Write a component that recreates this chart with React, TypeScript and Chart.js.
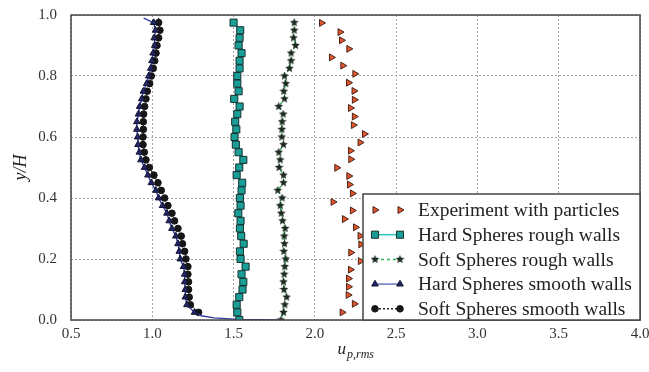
import React, { useEffect, useRef } from 'react';
import { Chart, registerables } from 'chart.js';

Chart.register(...registerables);

// ---------- data ----------
const roughY = [0.975, 0.95, 0.925, 0.9, 0.875, 0.85, 0.825, 0.8, 0.775, 0.75, 0.725, 0.7, 0.675, 0.65, 0.625, 0.6, 0.575, 0.55, 0.525, 0.5, 0.475, 0.45, 0.425, 0.4, 0.375, 0.35, 0.325, 0.3, 0.275, 0.25, 0.225, 0.2, 0.175, 0.15, 0.125, 0.1, 0.075, 0.05, 0.025, 0.0];
const hardRoughU = [1.5, 1.541, 1.537, 1.531, 1.549, 1.537, 1.537, 1.523, 1.523, 1.531, 1.504, 1.537, 1.523, 1.51, 1.517, 1.506, 1.514, 1.531, 1.56, 1.535, 1.519, 1.553, 1.549, 1.539, 1.543, 1.529, 1.543, 1.539, 1.547, 1.562, 1.539, 1.543, 1.574, 1.549, 1.56, 1.555, 1.535, 1.519, 1.523, 1.535];
const softRoughU = [1.873, 1.873, 1.869, 1.881, 1.854, 1.854, 1.844, 1.813, 1.821, 1.809, 1.813, 1.778, 1.805, 1.799, 1.797, 1.797, 1.807, 1.778, 1.787, 1.78, 1.807, 1.807, 1.772, 1.799, 1.787, 1.793, 1.801, 1.817, 1.811, 1.813, 1.809, 1.821, 1.815, 1.811, 1.807, 1.81, 1.826, 1.815, 1.807, 1.791];

const smoothY = [0.99, 0.975, 0.95, 0.925, 0.9, 0.875, 0.85, 0.825, 0.8, 0.775, 0.75, 0.725, 0.7, 0.675, 0.65, 0.625, 0.6, 0.575, 0.55, 0.525, 0.5, 0.475, 0.45, 0.425, 0.4, 0.375, 0.35, 0.325, 0.3, 0.275, 0.25, 0.225, 0.2, 0.175, 0.15, 0.125, 0.1, 0.075, 0.05, 0.025];
const hardSmoothU = [0.947, 1.008, 1.02, 1.012, 1.015, 1.005, 0.998, 0.99, 0.978, 0.965, 0.945, 0.935, 0.922, 0.915, 0.905, 0.905, 0.91, 0.912, 0.92, 0.93, 0.952, 0.973, 0.994, 1.022, 1.039, 1.063, 1.09, 1.104, 1.121, 1.145, 1.158, 1.166, 1.172, 1.192, 1.199, 1.199, 1.203, 1.203, 1.213, 1.26];
const hardSmoothWallY = [0.014, 0.007, 0.002, 0.0];
const hardSmoothWallU = [1.3, 1.38, 1.53, 1.79];
const softSmoothU = [1.039, 1.039, 1.047, 1.039, 1.029, 1.023, 1.015, 1.006, 0.994, 0.984, 0.969, 0.961, 0.953, 0.947, 0.945, 0.945, 0.943, 0.943, 0.951, 0.961, 0.982, 1.01, 1.035, 1.055, 1.076, 1.096, 1.121, 1.137, 1.158, 1.178, 1.186, 1.199, 1.207, 1.219, 1.219, 1.223, 1.223, 1.227, 1.234, 1.285];

const expY = [0.974, 0.944, 0.917, 0.889, 0.861, 0.834, 0.807, 0.778, 0.751, 0.722, 0.695, 0.667, 0.639, 0.61, 0.582, 0.555, 0.527, 0.499, 0.472, 0.444, 0.415, 0.387, 0.359, 0.331, 0.304, 0.276, 0.248, 0.221, 0.193, 0.165, 0.136, 0.109, 0.082, 0.053, 0.025];
const expU = [2.041, 2.155, 2.164, 2.209, 2.102, 2.172, 2.246, 2.207, 2.241, 2.243, 2.219, 2.243, 2.237, 2.305, 2.278, 2.219, 2.221, 2.135, 2.209, 2.213, 2.231, 2.112, 2.231, 2.182, 2.25, 2.278, 2.283, 2.221, 2.28, 2.219, 2.207, 2.207, 2.205, 2.243, 2.168];

const seriesLabels = [
  'Experiment with particles',
  'Hard Spheres rough walls',
  'Soft Spheres rough walls',
  'Hard Spheres smooth walls',
  'Soft Spheres smooth walls',
];
const xMin = 0.5, xMax = 4.0, xStep = 0.5;
const yMin = 0.0, yMax = 1.0, yStep = 0.2;
const xTitleMain = 'u';
const xTitleSub = 'p,rms';
const yTitle = 'y/H';

// ---------- helpers ----------
const FONT = "'Liberation Serif', serif";

function pts(xs: number[], ys: number[]) {
  return xs.map((x, i) => ({ x, y: ys[i] }));
}

function makeStar(size: number, fill: string) {
  const c = document.createElement('canvas');
  c.width = size; c.height = size;
  const g = c.getContext('2d')!;
  const cx = size / 2, cy = size / 2, R = size / 2, r = R * 0.45;
  g.beginPath();
  for (let i = 0; i < 10; i++) {
    const rad = i % 2 === 0 ? R : r;
    const a = -Math.PI / 2 + (i * Math.PI) / 5;
    const px = cx + rad * Math.cos(a), py = cy + rad * Math.sin(a);
    if (i === 0) g.moveTo(px, py); else g.lineTo(px, py);
  }
  g.closePath();
  g.fillStyle = fill;
  g.fill();
  return c;
}

function drawMarker(ctx: CanvasRenderingContext2D, ds: any, x: number, y: number) {
  const style = ds.pointStyle;
  if (style instanceof HTMLCanvasElement) {
    ctx.drawImage(style, x - style.width / 2, y - style.height / 2);
    return;
  }
  const r = ds.pointRadius instanceof Array ? ds.pointRadius[1] : ds.pointRadius;
  ctx.save();
  ctx.translate(x, y);
  ctx.rotate(((ds.pointRotation || 0) * Math.PI) / 180);
  ctx.beginPath();
  if (style === 'rect') {
    const s = r * Math.SQRT1_2;
    ctx.rect(-s, -s, 2 * s, 2 * s);
  } else if (style === 'triangle') {
    for (let i = 0; i < 3; i++) {
      const a = -Math.PI / 2 + (i * 2 * Math.PI) / 3;
      const px = r * Math.cos(a), py = r * Math.sin(a);
      if (i === 0) ctx.moveTo(px, py); else ctx.lineTo(px, py);
    }
    ctx.closePath();
  } else {
    ctx.arc(0, 0, r, 0, Math.PI * 2);
  }
  ctx.fillStyle = ds.pointBackgroundColor;
  ctx.fill();
  ctx.lineWidth = ds.pointBorderWidth || 1;
  ctx.strokeStyle = ds.pointBorderColor;
  ctx.stroke();
  ctx.restore();
}

const framePlugin = {
  id: 'frameAndLegend',
  afterDraw(chart: any) {
    const { ctx, chartArea } = chart;
    ctx.save();
    // frame
    ctx.strokeStyle = '#444';
    ctx.lineWidth = 1.5;
    ctx.strokeRect(chartArea.left, chartArea.top, chartArea.right - chartArea.left, chartArea.bottom - chartArea.top);

    // legend box
    const w = 277, h = 126;
    const x0 = chartArea.right - w, y0 = chartArea.bottom - h;
    ctx.fillStyle = '#ffffff';
    ctx.fillRect(x0, y0, w, h);
    ctx.strokeRect(x0, y0, w, h);
    chart.data.datasets.forEach((ds: any, i: number) => {
      const y = y0 + 16 + i * 24.7;
      const xa = x0 + 12, xb = x0 + 37;
      if (ds.showLine) {
        ctx.save();
        ctx.strokeStyle = ds.legendLineColor || ds.borderColor;
        ctx.lineWidth = 1.5;
        ctx.setLineDash(ds.borderDash || []);
        ctx.beginPath();
        ctx.moveTo(xa, y);
        ctx.lineTo(xb, y);
        ctx.stroke();
        ctx.restore();
      }
      drawMarker(ctx, ds, xa, y);
      drawMarker(ctx, ds, xb, y);
      ctx.fillStyle = '#222';
      ctx.font = `19.5px ${FONT}`;
      ctx.textBaseline = 'middle';
      ctx.textAlign = 'left';
      ctx.fillText(ds.label, x0 + 55, y + 1);
    });

    // x title
    ctx.fillStyle = '#222';
    ctx.textBaseline = 'alphabetic';
    ctx.textAlign = 'left';
    ctx.font = `italic 17px ${FONT}`;
    const cx = (chartArea.left + chartArea.right) / 2;
    ctx.fillText(xTitleMain, cx - 18, 354);
    const uw = ctx.measureText(xTitleMain).width;
    ctx.font = `italic 12px ${FONT}`;
    ctx.fillText(xTitleSub, cx - 18 + uw + 1, 358);

    // y title
    ctx.save();
    ctx.translate(21, (chartArea.top + chartArea.bottom) / 2);
    ctx.rotate(-Math.PI / 2);
    ctx.font = `italic 18px ${FONT}`;
    ctx.textAlign = 'center';
    ctx.textBaseline = 'middle';
    ctx.fillText(yTitle, 0, 0);
    ctx.restore();
    ctx.restore();
  },
};

export default function App() {
  const ref = useRef<HTMLCanvasElement | null>(null);
  useEffect(() => {
    if (!ref.current) return;
    const star = makeStar(9, '#1c2a20');
    const hardSmoothAllU = hardSmoothU.concat(hardSmoothWallU);
    const hardSmoothAllY = smoothY.concat(hardSmoothWallY);
    const hardSmoothRadius = hardSmoothAllY.map((_, i) => (i === 0 || i >= smoothY.length ? 0 : 3.8));
    const softSmoothRadius = smoothY.map((_, i) => (i === 0 ? 0 : 3.3));
    const chart = new Chart(ref.current, {
      type: 'scatter',
      data: {
        datasets: [
          {
            label: seriesLabels[0],
            data: pts(expU, expY),
            showLine: false,
            pointStyle: 'triangle',
            pointRotation: 90,
            pointRadius: 4,
            pointBackgroundColor: '#e2552c',
            pointBorderColor: '#4a2418',
            pointBorderWidth: 1,
            borderColor: '#e2552c',
          } as any,
          {
            label: seriesLabels[1],
            data: pts(hardRoughU, roughY),
            showLine: true,
            borderColor: '#27c3bd',
            borderWidth: 1.2,
            pointStyle: 'rect',
            pointRadius: 5,
            pointBackgroundColor: '#1a9e98',
            pointBorderColor: '#15302e',
            pointBorderWidth: 1,
          },
          {
            label: seriesLabels[2],
            data: pts(softRoughU, roughY),
            showLine: true,
            borderColor: '#2fb55a',
            borderWidth: 1.4,
            borderDash: [3, 3],
            pointStyle: star,
            pointRadius: 4.5,
            pointBackgroundColor: '#1c2a20',
            pointBorderColor: '#1c2a20',
          },
          {
            label: seriesLabels[3],
            data: pts(hardSmoothAllU, hardSmoothAllY),
            showLine: true,
            borderColor: '#363c9c',
            legendLineColor: '#6d74c0',
            borderWidth: 1.4,
            pointStyle: 'triangle',
            pointRadius: hardSmoothRadius,
            pointBackgroundColor: '#202666',
            pointBorderColor: '#111430',
            pointBorderWidth: 1,
          } as any,
          {
            label: seriesLabels[4],
            data: pts(softSmoothU, smoothY),
            showLine: true,
            borderColor: '#222',
            borderWidth: 1.2,
            borderDash: [2, 2],
            pointStyle: 'circle',
            pointRadius: softSmoothRadius,
            pointBackgroundColor: '#161616',
            pointBorderColor: '#161616',
            pointBorderWidth: 1,
          },
        ],
      },
      options: {
        animation: false,
        responsive: false,
        events: [],
        layout: { padding: { left: 0, top: 15, right: 9, bottom: 0 } },
        plugins: { legend: { display: false }, tooltip: { enabled: false } },
        font: { family: FONT },
        scales: {
          x: {
            type: 'linear',
            min: xMin,
            max: xMax,
            afterFit: (s: any) => { s.height = 52; s.paddingLeft = 0; s.paddingRight = 0; },
            ticks: {
              stepSize: xStep,
              color: '#333',
              padding: 5,
              font: { family: FONT, size: 15 },
              callback: (v: any) => Number(v).toFixed(1),
            },
            grid: { color: '#a8a8a8', drawTicks: false, lineWidth: 1 },
            border: { display: false, dash: [2, 2] },
          },
          y: {
            type: 'linear',
            min: yMin,
            max: yMax,
            afterFit: (s: any) => { s.width = 71; s.paddingTop = 0; s.paddingBottom = 0; },
            ticks: {
              stepSize: yStep,
              color: '#333',
              padding: 14,
              font: { family: FONT, size: 15 },
              callback: (v: any) => Number(v).toFixed(1),
            },
            grid: { color: '#a8a8a8', drawTicks: false, lineWidth: 1 },
            border: { display: false, dash: [2, 2] },
          },
        },
      } as any,
      plugins: [framePlugin],
    });
    return () => chart.destroy();
  }, []);
  return (
    <div style={{ position: 'absolute', left: 0, top: 0, width: 649, height: 372, background: '#fff' }}>
      <canvas ref={ref} width={649} height={372} style={{ display: 'block' }} />
    </div>
  );
}
